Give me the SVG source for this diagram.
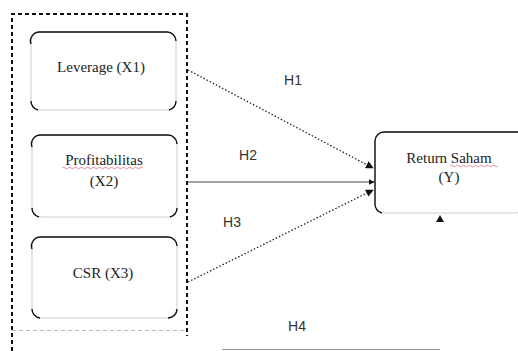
<svg xmlns="http://www.w3.org/2000/svg" width="518" height="351" viewBox="0 0 518 351">
<defs>
<style>
.frame{fill:none;stroke:#111;stroke-width:2;stroke-dasharray:4 3}
.box{fill:#fff;stroke:#ccc;stroke-width:1}
.edge{fill:none;stroke:#111;stroke-width:1.4}
.lbl{font-family:"Liberation Serif",serif;font-size:15px;fill:#222;text-anchor:middle}
.hyp{font-family:"Liberation Sans",sans-serif;font-size:14px;fill:#333;text-anchor:middle}
.dot{fill:none;stroke:#222;stroke-width:1.3;stroke-dasharray:1.5 2}
.solid{fill:none;stroke:#444;stroke-width:1}
.squig{fill:none;stroke:#e06070;stroke-width:0.7}
</style>
<marker id="ah" viewBox="0 0 10 10" refX="9" refY="5" markerWidth="6" markerHeight="6" orient="auto">
<path d="M0,0 L10,5 L0,10 z" fill="#111"/>
</marker>
</defs>
<rect x="0" y="0" width="518" height="351" fill="#fff"/>
<g id="frame">
<path class="frame" d="M12,351 V14 H187 V336"/>
<path d="M12,330.5 H187" fill="none" stroke="#bbb" stroke-width="1" stroke-dasharray="4 3"/>
</g>
<g id="x1">
<rect class="box" x="31" y="32" width="145" height="78" rx="9"/>
<path class="edge" d="M31,44 A9,9 0 0 1 40,32 H167 A9,9 0 0 1 176,41"/>
<path class="edge" d="M31,101 A9,9 0 0 0 38,110 M169,110 A9,9 0 0 0 176,101"/>
<text class="lbl" x="101" y="72">Leverage (X1)</text>
</g>
<g id="x2">
<rect class="box" x="32" y="135" width="145" height="82" rx="9"/>
<path class="edge" d="M32,147 A9,9 0 0 1 41,135 H168 A9,9 0 0 1 177,144"/>
<path class="edge" d="M32,208 A9,9 0 0 0 39,217 M170,217 A9,9 0 0 0 177,208"/>
<text class="lbl" x="104" y="165">Profitabilitas</text>
<path class="squig" d="M62,168 q1.5,-1.5 3,0 t3,0 t3,0 t3,0 t3,0 t3,0 t3,0 t3,0 t3,0 t3,0 t3,0 t3,0 t3,0 t3,0 t3,0 t3,0 t3,0 t3,0 t3,0 t3,0 t3,0 t3,0 t3,0 t3,0 t3,0 t3,0 t3,0"/>
<text class="lbl" x="104" y="186">(X2)</text>
</g>
<g id="x3">
<rect class="box" x="32" y="237" width="145" height="81" rx="9"/>
<path class="edge" d="M32,249 A9,9 0 0 1 41,237 H168 A9,9 0 0 1 177,246"/>
<path class="edge" d="M32,309 A9,9 0 0 0 40,318 M168,318 A9,9 0 0 0 177,309"/>
<text class="lbl" x="103" y="278">CSR (X3)</text>
</g>
<g id="y">
<rect class="box" x="375" y="132" width="150" height="81" rx="9"/>
<path class="edge" d="M375,204 V141 A9,9 0 0 1 384,132 H518"/>
<path class="edge" d="M375,204 A9,9 0 0 0 382,213"/>
<text class="lbl" x="449" y="163">Return Saham</text>
<path class="squig" d="M450,166 q1.5,-1.5 3,0 t3,0 t3,0 t3,0 t3,0 t3,0 t3,0 t3,0 t3,0 t3,0 t3,0 t3,0 t3,0 t3,0 t3,0 t3,0"/>
<text class="lbl" x="449" y="182">(Y)</text>
</g>
<g id="connectors">
<path class="dot" d="M188,70 L373,168" marker-end="url(#ah)"/>
<path class="solid" d="M188,182 L374,182" marker-end="url(#ah)"/>
<path class="dot" d="M188,282 L373,190" marker-end="url(#ah)"/>
<path d="M222,349.5 H440" fill="none" stroke="#999" stroke-width="1"/>
<path d="M436,222 L440,215 L444,222 z" fill="#111"/>
</g>
<g id="labels">
<text class="hyp" x="293" y="85">H1</text>
<text class="hyp" x="248" y="160">H2</text>
<text class="hyp" x="232" y="227">H3</text>
<text class="hyp" x="297" y="331">H4</text>
</g>
</svg>
